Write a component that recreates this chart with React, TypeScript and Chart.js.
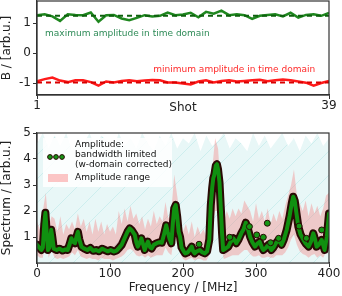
import React, { useEffect, useRef } from 'react';
import { Chart, registerables } from 'chart.js';

Chart.register(...registerables);

// ---------- top panel data ----------
const shots = [1, 2, 3, 4, 5, 6, 7, 8, 9, 10, 11, 12, 13, 14, 15, 16, 17, 18, 19, 20, 21, 22, 23, 24, 25, 26, 27, 28, 29, 30, 31, 32, 33, 34, 35, 36, 37, 38, 39];
const maxAmp = [1.27, 1.30, 1.23, 1.08, 1.30, 1.28, 1.27, 1.36, 1.05, 1.27, 1.28, 1.16, 1.10, 1.18, 1.27, 1.23, 1.25, 1.36, 1.27, 1.29, 1.35, 1.20, 1.38, 1.32, 1.42, 1.27, 1.30, 1.27, 1.15, 1.25, 1.28, 1.30, 1.23, 1.35, 1.19, 1.28, 1.30, 1.25, 1.35];
const minAmp = [-0.93, -0.86, -0.81, -0.91, -0.96, -0.90, -0.90, -0.96, -1.08, -0.94, -0.97, -0.92, -0.90, -0.93, -0.91, -0.89, -0.90, -0.97, -0.97, -1.01, -1.04, -0.94, -0.90, -0.97, -0.92, -0.90, -0.94, -0.92, -0.90, -0.88, -0.93, -0.90, -0.87, -0.90, -0.94, -0.98, -1.08, -0.99, -0.92];
const maxMean = 1.25;
const minMean = -0.97;
const shotTicks = [1, 39];
const bTicks = [-1, 0, 1];

// ---------- bottom panel data ----------
const freq = [0, 3, 6, 8, 10, 11.5, 13, 15, 17, 19.5, 21, 23, 27, 31, 35, 39, 42, 45, 47, 50, 52, 54, 56, 58, 61, 65, 69, 73, 77, 81, 85, 89, 93, 97, 101, 105, 109, 113, 116, 120, 124, 127, 130, 134, 136, 138, 141, 143, 145.5, 147.5, 150, 152, 155, 157, 160, 164, 168, 171, 174, 177, 179, 182, 184, 186, 188, 190, 192, 194, 196, 198, 201, 203, 206, 209, 212, 214, 216, 219, 223, 226, 230, 233, 236, 238, 240, 241.5, 243, 245, 246.5, 248, 250, 252, 253.5, 255, 258, 262, 265, 269, 273, 276, 280, 283, 286, 289, 292, 295, 298.5, 302, 305, 308, 310, 314, 317, 321, 324, 327, 331, 335, 338, 342, 346, 349, 351, 353, 356, 358, 361, 365, 368, 372, 375, 378.5, 381, 383, 386, 390, 394, 397, 400];
const amp = [0.7, 0.6, 0.5, 0.6, 1.5, 1.93, 1.3, 0.5, 0.6, 1.28, 1.0, 0.55, 0.5, 0.55, 0.48, 0.52, 0.5, 0.75, 0.95, 0.8, 0.76, 1.0, 1.2, 0.9, 0.62, 0.55, 0.5, 0.58, 0.47, 0.5, 0.45, 0.55, 0.5, 0.45, 0.5, 0.44, 0.48, 0.6, 0.7, 0.95, 1.2, 1.33, 1.25, 1.08, 0.8, 0.63, 0.8, 0.95, 0.7, 0.5, 0.7, 0.82, 0.6, 0.56, 0.7, 0.76, 0.8, 0.78, 1.1, 1.45, 1.2, 0.9, 0.76, 1.5, 2.1, 2.23, 1.8, 1.2, 1.0, 0.6, 0.45, 0.37, 0.4, 0.5, 0.63, 0.45, 0.37, 0.45, 0.5, 0.42, 0.37, 0.45, 0.9, 2.2, 2.9, 3.26, 3.4, 3.75, 3.8, 3.6, 3.1, 2.0, 1.14, 0.5, 0.55, 0.63, 0.8, 0.95, 0.76, 0.9, 1.15, 1.3, 1.55, 1.3, 1.0, 0.8, 0.63, 0.75, 0.82, 0.6, 0.5, 0.6, 0.7, 0.5, 0.6, 0.75, 0.89, 0.7, 0.9, 1.27, 1.8, 2.3, 2.55, 2.4, 1.8, 1.4, 1.1, 0.89, 0.75, 0.63, 0.8, 1.14, 0.9, 0.63, 0.7, 0.89, 0.5, 1.0, 1.9];
const outlierFreq = [222, 264, 291, 301, 310, 315.5, 320, 331, 359, 369, 390];
const outlierAmp = [0.72, 0.99, 1.4, 1.08, 0.99, 1.53, 0.78, 0.95, 1.42, 0.95, 1.27];
const bandFreq = [0, 4, 8, 12, 16, 20, 24, 28, 32, 36, 40, 44, 48, 52, 56, 60, 64, 68, 72, 76, 80, 84, 88, 92, 96, 100, 104, 108, 112, 116, 120, 124, 128, 132, 136, 140, 144, 148, 152, 156, 160, 164, 168, 172, 176, 180, 184, 188, 192, 196, 200, 204, 208, 212, 216, 220, 224, 228, 232, 236, 240, 244, 248, 252, 256, 260, 264, 268, 272, 276, 280, 284, 288, 292, 296, 300, 304, 308, 312, 316, 320, 324, 328, 332, 336, 340, 344, 348, 352, 356, 360, 364, 368, 372, 376, 380, 384, 388, 392, 396, 400];
const bandHi = [1.6, 1.3, 2.0, 2.7, 1.4, 1.8, 1.7, 1.2, 1.8, 1.1, 1.5, 1.3, 1.6, 1.3, 1.9, 1.4, 1.7, 1.2, 1.6, 1.1, 1.7, 1.2, 1.6, 1.1, 1.5, 1.2, 1.4, 1.1, 2.0, 1.5, 2.1, 1.6, 2.2, 1.7, 1.9, 1.5, 1.8, 1.3, 1.7, 1.4, 2.0, 1.5, 1.8, 1.6, 2.35, 1.7, 2.0, 3.4, 2.6, 1.8, 1.2, 1.5, 1.1, 1.6, 1.0, 1.4, 1.1, 1.3, 1.0, 1.8, 3.6, 4.8, 4.4, 2.8, 1.6, 2.0, 1.7, 2.1, 1.8, 2.1, 1.9, 2.4, 2.2, 2.0, 1.6, 2.3, 1.7, 2.0, 1.6, 2.1, 1.5, 1.9, 1.6, 2.0, 1.7, 2.2, 2.6, 3.0, 3.6, 2.6, 2.3, 2.0, 2.4, 1.8, 2.3, 1.9, 2.2, 1.8, 2.1, 2.6, 2.7];
const bandLo = [0.3, 0.2, 0.2, 1.0, 0.2, 0.5, 0.2, 0.15, 0.2, 0.15, 0.2, 0.25, 0.4, 0.3, 0.5, 0.25, 0.2, 0.15, 0.2, 0.15, 0.15, 0.1, 0.2, 0.15, 0.15, 0.15, 0.1, 0.15, 0.2, 0.25, 0.35, 0.5, 0.55, 0.45, 0.3, 0.25, 0.3, 0.2, 0.3, 0.2, 0.25, 0.3, 0.3, 0.3, 0.6, 0.4, 0.3, 1.0, 0.8, 0.4, 0.15, 0.1, 0.15, 0.2, 0.1, 0.15, 0.15, 0.1, 0.1, 0.3, 1.5, 2.0, 2.0, 0.6, 0.15, 0.2, 0.25, 0.3, 0.3, 0.3, 0.4, 0.5, 0.5, 0.35, 0.25, 0.25, 0.3, 0.2, 0.2, 0.25, 0.2, 0.2, 0.3, 0.3, 0.3, 0.4, 0.6, 0.9, 1.1, 0.7, 0.45, 0.35, 0.3, 0.2, 0.3, 0.35, 0.2, 0.3, 0.2, 0.4, 0.8];
const bgFreq = [0, 8, 16, 24, 32, 40, 48, 56, 64, 72, 80, 88, 96, 104, 112, 120, 128, 136, 144, 152, 160, 168, 176, 184, 192, 200, 208, 216, 224, 232, 240, 248, 256, 264, 272, 280, 288, 296, 304, 312, 320, 328, 336, 344, 352, 360, 368, 376, 384, 392, 400];
const bgTop = [4.6, 5.0, 4.4, 4.9, 4.5, 5.0, 4.3, 4.8, 4.6, 5.0, 4.4, 4.9, 4.7, 4.3, 5.0, 4.5, 4.8, 4.4, 5.0, 4.6, 4.3, 4.9, 4.5, 5.0, 4.4, 4.8, 4.6, 5.0, 4.3, 4.9, 4.5, 4.7, 5.0, 4.4, 4.8, 4.6, 4.3, 5.0, 4.5, 4.9, 4.4, 4.7, 5.0, 4.5, 4.8, 4.3, 4.9, 4.6, 5.0, 4.5, 4.8];
const specTicks = [1, 2, 3, 4, 5];
const freqTicks = [0, 100, 200, 300, 400];

const FONT = "'DejaVu Sans', sans-serif";
const AX = '#333333';

const pts = (xs: number[], ys: number[]) => xs.map((x, i) => ({ x, y: ys[i] }));

const frame = {
  id: 'frame',
  afterDraw(chart: any) {
    const { ctx, chartArea: a } = chart;
    ctx.save();
    ctx.strokeStyle = AX;
    ctx.lineWidth = 1.2;
    ctx.strokeRect(a.left, a.top, a.right - a.left, a.bottom - a.top);
    ctx.restore();
  },
};

const fixed = (size: number, vertical: boolean) => (s: any) => {
  if (vertical) s.width = size; else s.height = size;
  s.paddingTop = 0; s.paddingBottom = 0; s.paddingLeft = 0; s.paddingRight = 0;
};

const setTicks = (vals: number[]) => (s: any) => { s.ticks = vals.map((v) => ({ value: v })); };

const axisCommon = (tickPad: number) => ({
  grid: { display: true, drawOnChartArea: false, drawTicks: true, tickLength: 4, color: AX, lineWidth: 1 },
  border: { display: true, color: AX, width: 1.2 },
  ticks: { color: '#222', font: { family: FONT, size: 12 }, padding: tickPad, autoSkip: false, maxRotation: 0, callback: (v: any) => String(v) },
});

const annot = {
  id: 'annot',
  afterDraw(chart: any) {
    const { ctx, scales } = chart;
    const x = scales.x, y = scales.y;
    ctx.save();
    ctx.font = `9px ${FONT}`;
    ctx.textBaseline = 'middle';
    ctx.fillStyle = '#2e8b57';
    ctx.textAlign = 'left';
    ctx.fillText('maximum amplitude in time domain', x.getPixelForValue(2.05), y.getPixelForValue(0.67));
    ctx.fillStyle = '#ff2a2a';
    ctx.textAlign = 'right';
    ctx.fillText('minimum amplitude in time domain', x.getPixelForValue(37.2), y.getPixelForValue(-0.53));
    ctx.restore();
  },
};

const specLegend = {
  id: 'specLegend',
  afterDraw(chart: any) {
    const { ctx, chartArea: a } = chart;
    const L = a.left, T = a.top;
    ctx.save();
    ctx.fillStyle = 'rgba(255,255,255,0.85)';
    ctx.fillRect(L + 6, T + 5, 129, 49);
    // marker dots
    [13, 19, 25].forEach((dx) => {
      ctx.beginPath();
      ctx.arc(L + dx, T + 24, 2.4, 0, Math.PI * 2);
      ctx.fillStyle = '#169616';
      ctx.fill();
      ctx.lineWidth = 1;
      ctx.strokeStyle = '#2a0a05';
      ctx.stroke();
    });
    // range patch
    ctx.fillStyle = 'rgba(250,150,150,0.55)';
    ctx.fillRect(L + 11, T + 41, 20, 8);
    ctx.fillStyle = '#111';
    ctx.font = `9px ${FONT}`;
    ctx.textBaseline = 'middle';
    ctx.textAlign = 'left';
    ctx.fillText('Amplitude:', L + 38, T + 12);
    ctx.fillText('bandwidth limited', L + 38, T + 22);
    ctx.fillText('(w-domain corrected)', L + 38, T + 32);
    ctx.fillText('Amplitude range', L + 38, T + 45);
    ctx.restore();
  },
};

export default function App() {
  const topRef = useRef<HTMLCanvasElement>(null);
  const botRef = useRef<HTMLCanvasElement>(null);

  useEffect(() => {
    const pc = document.createElement('canvas');
    pc.width = 24; pc.height = 24;
    const p = pc.getContext('2d')!;
    p.fillStyle = '#e8f7f7';
    p.fillRect(0, 0, 24, 24);
    p.strokeStyle = '#cdeeee';
    p.lineWidth = 1;
    p.beginPath(); p.moveTo(-1, 25); p.lineTo(25, -1); p.stroke();
    const pattern = botRef.current!.getContext('2d')!.createPattern(pc, 'repeat');

    const top = new Chart(topRef.current!, {
      type: 'line',
      data: {
        datasets: [
          { data: [{ x: 1, y: maxMean }, { x: 39, y: maxMean }] as any, borderColor: '#0d600d', borderWidth: 2, borderDash: [5, 4], pointRadius: 0, order: 0 },
          { data: [{ x: 1, y: minMean }, { x: 39, y: minMean }] as any, borderColor: '#d80000', borderWidth: 2, borderDash: [5, 4], pointRadius: 0, order: 1 },
          { data: pts(shots, maxAmp) as any, borderColor: '#1f871f', borderWidth: 2.5, pointRadius: 0, order: 2 },
          { data: pts(shots, minAmp) as any, borderColor: '#ff1a1a', borderWidth: 2.5, pointRadius: 0, order: 3 },
        ],
      },
      options: {
        animation: false,
        responsive: false,
        devicePixelRatio: 1,
        layout: { padding: { top: 1, right: 13, left: 0, bottom: 0 } },
        plugins: { legend: { display: false }, tooltip: { enabled: false } },
        scales: {
          x: {
            type: 'linear', min: 1, max: 39,
            afterBuildTicks: setTicks(shotTicks),
            afterFit: fixed(25, false),
            ...axisCommon(0),
            title: { display: true, text: 'Shot', color: '#222', font: { family: FONT, size: 12 }, padding: { top: 0, bottom: 5 } },
          },
          y: {
            type: 'linear', min: -1.39, max: 1.743,
            afterBuildTicks: setTicks(bTicks),
            afterFit: fixed(37, true),
            ...axisCommon(2),
            title: { display: true, text: 'B / [arb.u.]', color: '#222', font: { family: FONT, size: 12 }, padding: { top: 0, bottom: 0 } },
          },
        },
      } as any,
      plugins: [frame, annot],
    });

    const bot = new Chart(botRef.current!, {
      type: 'line',
      data: {
        datasets: [
          { data: pts(outlierFreq, outlierAmp) as any, showLine: false, pointRadius: 3, pointBackgroundColor: '#169616', pointBorderColor: '#2a0a05', pointBorderWidth: 1, order: 0 },
          { data: pts(freq, amp) as any, borderColor: '#109010', borderWidth: 4, pointRadius: 0, borderJoinStyle: 'round', borderCapStyle: 'round', order: 1 },
          { data: pts(freq, amp) as any, borderColor: '#2a0a05', borderWidth: 8, pointRadius: 0, borderJoinStyle: 'round', borderCapStyle: 'round', order: 2 },
          { data: pts(bandFreq, bandHi) as any, borderWidth: 0, pointRadius: 0, fill: '+1', backgroundColor: 'rgba(250,110,110,0.33)', order: 3 },
          { data: pts(bandFreq, bandLo) as any, borderWidth: 0, pointRadius: 0, fill: false, order: 4 },
          { data: pts(bgFreq, bgTop) as any, borderWidth: 0, pointRadius: 0, fill: 'origin', backgroundColor: pattern, order: 5 },
        ],
      },
      options: {
        animation: false,
        responsive: false,
        devicePixelRatio: 1,
        layout: { padding: { top: 13, right: 13, left: 0, bottom: 0 } },
        plugins: { legend: { display: false }, tooltip: { enabled: false } },
        scales: {
          x: {
            type: 'linear', min: 0, max: 400,
            afterBuildTicks: setTicks(freqTicks),
            afterFit: fixed(33, false),
            ...axisCommon(0),
            title: { display: true, text: 'Frequency / [MHz]', color: '#222', font: { family: FONT, size: 12 }, padding: { top: 0, bottom: 1 } },
          },
          y: {
            type: 'linear', min: 0, max: 5,
            afterBuildTicks: setTicks(specTicks),
            afterFit: fixed(37, true),
            ...axisCommon(2),
            title: { display: true, text: 'Spectrum / [arb.u.]', color: '#222', font: { family: FONT, size: 12 }, padding: { top: 0, bottom: 0 } },
          },
        },
      } as any,
      plugins: [frame, specLegend],
    });

    return () => { top.destroy(); bot.destroy(); };
  }, []);

  return (
    <div style={{ position: 'absolute', left: 0, top: 0, width: 342, height: 296, background: '#fff' }}>
      <canvas ref={topRef} width={342} height={120} style={{ position: 'absolute', left: 0, top: 0, display: 'block' }} />
      <canvas ref={botRef} width={342} height={176} style={{ position: 'absolute', left: 0, top: 120, display: 'block' }} />
    </div>
  );
}
